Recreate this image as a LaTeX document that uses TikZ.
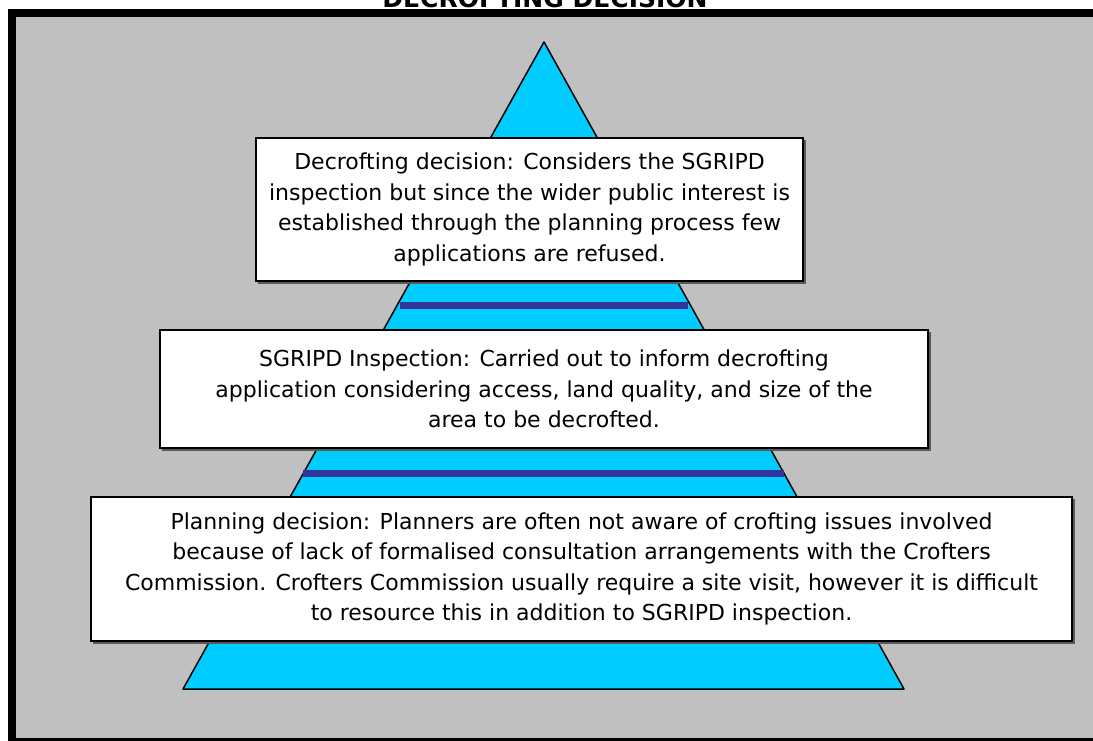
\documentclass[tikz,border=0pt]{standalone}
\usepackage{fontspec}
\setmainfont{DejaVu Sans}
\usepackage{xcolor}
\usetikzlibrary{positioning}

\definecolor{panelgray}{HTML}{C0C0C0}
\definecolor{pyrblue}{HTML}{00CCFF}
\definecolor{barblue}{HTML}{333399}

\begin{document}
\begin{tikzpicture}[
    x=1pt, y=-1pt,
    textbox/.style={rectangle, draw, fill=white, line width=1.5pt, align=center,
        inner sep=0pt, font=\fontsize{22}{30.5}\selectfont},
    levelbar/.style={draw=barblue, line width=7pt},
    title/.style={font=\fontsize{25}{30}\selectfont\bfseries, anchor=base}
]
\useasboundingbox (0,0) rectangle (1093,740);

% Frame and background
\draw[line width=8pt, fill=panelgray] (12,13) rectangle (1097,742);
\node[title] (heading) at (545,7) {DECROFTING DECISION};

% Pyramid
\draw[fill=pyrblue, line width=1.5pt, line join=round] (544,42) -- (904,689) -- (183,689) -- cycle;

% Level bars
\draw[levelbar] (400,305.5) -- (688,305.5);
\draw[levelbar] (303,473.5) -- (784,473.5);

% Shadows
\fill[gray!70!black] (258,140) rectangle (806,284);
\fill[gray!70!black] (162,332) rectangle (931,451);
\fill[gray!70!black] (93,499) rectangle (1075,644);

% Decrofting decision
\node[textbox, minimum width=547pt, minimum height=143pt] (decroft) at (529.5,209.5)
    {Decrofting decision: Considers the SGRIPD\\inspection but since the wider public interest is\\established through the planning process few\\applications are refused.};

% SGRIPD inspection
\node[textbox, minimum width=768pt, minimum height=118pt] (inspect) at (544,389)
    {SGRIPD Inspection: Carried out to inform decrofting\\application considering access, land quality, and size of the\\area to be decrofted.};

% Planning decision
\node[textbox, minimum width=981pt, minimum height=144pt] (planning) at (581.5,569)
    {Planning decision: Planners are often not aware of crofting issues involved\\because of lack of formalised consultation arrangements with the Crofters\\Commission. Crofters Commission usually require a site visit, however it is difficult\\to resource this in addition to SGRIPD inspection.};

\end{tikzpicture}
\end{document}
